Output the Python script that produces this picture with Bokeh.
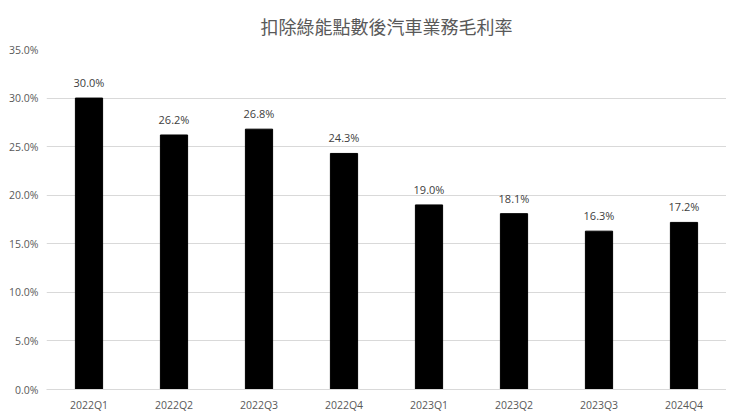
from bokeh.plotting import figure
from bokeh.models import ColumnDataSource, FixedTicker, NumeralTickFormatter, Range1d, LabelSet
from bokeh.core.properties import value
from bokeh.embed import file_html
from bokeh.resources import INLINE

title = "扣除綠能點數後汽車業務毛利率"
quarters = ["2022Q1", "2022Q2", "2022Q3", "2022Q4", "2023Q1", "2023Q2", "2023Q3", "2024Q4"]
margin = [0.300, 0.262, 0.268, 0.243, 0.190, 0.181, 0.163, 0.172]
labels = ["30.0%", "26.2%", "26.8%", "24.3%", "19.0%", "18.1%", "16.3%", "17.2%"]
y_ticks = [0.0, 0.05, 0.10, 0.15, 0.20, 0.25, 0.30, 0.35]

source = ColumnDataSource(data=dict(q=quarters, m=margin, lab=labels))

p = figure(x_range=quarters, width=726, height=414, output_backend="svg",
           toolbar_location=None, title=title,
           min_border_left=46, min_border_right=0, min_border_bottom=21)
p.y_range = Range1d(0, 0.35)

p.vbar(x="q", top="m", width=0.32, color="black", source=source)
p.add_layout(LabelSet(x="q", y="m", text="lab", source=source, text_align="center",
                      y_offset=8, text_font_size="11px", text_color="#404040",
                      text_font=value("Open Sans")))

p.title.align = "center"
p.title.offset = -16
p.title.text_font = "Noto Sans CJK TC"
p.title.text_font_size = "18px"
p.title.text_font_style = "normal"
p.title.text_color = "#595959"
p.title.standoff = 21

p.yaxis.ticker = FixedTicker(ticks=y_ticks)
p.yaxis.formatter = NumeralTickFormatter(format="0.0%")
for ax in (p.xaxis, p.yaxis):
    ax.major_label_text_font = "Open Sans"
    ax.major_label_text_font_size = "10.5px"
    ax.major_label_text_color = "#595959"
    ax.major_tick_line_color = None
    ax.minor_tick_line_color = None
    ax.major_tick_out = 0
    ax.major_tick_in = 0
p.yaxis.axis_line_color = None
p.xaxis.axis_line_color = "#d9d9d9"
p.xaxis.major_label_standoff = 8
p.yaxis.major_label_standoff = 8

p.xgrid.grid_line_color = None
p.ygrid.grid_line_color = "#d9d9d9"
p.outline_line_color = None

open("out.html", "w").write(file_html(p, INLINE))
